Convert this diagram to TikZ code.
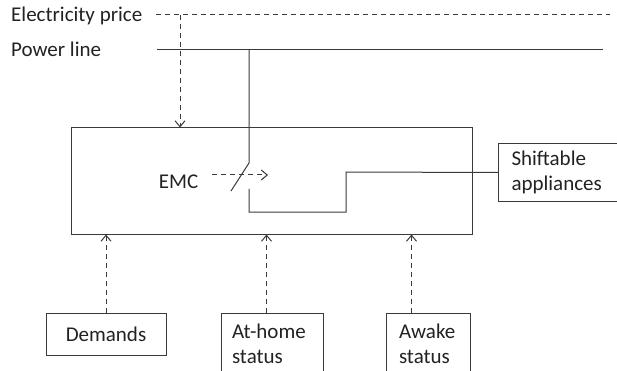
\documentclass[tikz,border=0pt]{standalone}
\usepackage{fontspec}
\setmainfont{Carlito}
\usetikzlibrary{arrows.meta}
\definecolor{linec}{HTML}{3A3A3A}
\definecolor{textc}{HTML}{222222}
\tikzset{
  txt/.style={text=textc, inner sep=0pt, font=\fontsize{21}{24.5}\selectfont},
  boxn/.style={draw=linec, line width=1pt, txt},
  wire/.style={draw=linec, line width=1pt},
  sig/.style={draw=linec, line width=1pt, dash pattern=on 5pt off 4pt,
              -{Straight Barb[length=6pt,width=10pt]}},
}
\begin{document}
\begin{tikzpicture}[x=1pt,y=-1pt]
\useasboundingbox (0,0) rectangle (617,371);
% labels
\node[txt, anchor=base west] (ep) at (11,22) {Electricity price};
\node[txt, anchor=base west] (pl) at (11,57) {Power line};
% lines
\coordinate (epS) at (156,15);
\coordinate (epE) at (610,15);
\coordinate (plS) at (157,50);
\coordinate (plE) at (603,50);
\draw[wire, dash pattern=on 5pt off 4pt] (epS) -- (epE);
\draw[wire] (plS) -- (plE);
% main box
\node[boxn, minimum width=401pt, minimum height=106pt] (emcbox) at (271.5,181) {};
\node[txt, anchor=base] (emc) at (178.5,189) {EMC};
% price arrow
\coordinate (ptap) at (180,15);
\draw[sig] (ptap) -- (ptap |- emcbox.north);
% switch
\coordinate (ptap2) at (249,50);
\coordinate (sw1) at (249,163);
\coordinate (blade) at (231,191);
\coordinate (sw2) at (249,189);
\draw[wire] (ptap2) -- (sw1) -- (blade);
\coordinate (ctlA) at (212,175);
\coordinate (ctlB) at (268,175);
\draw[sig] (ctlA) -- (ctlB);
% shiftable appliances
\node[boxn, anchor=north west, minimum height=58pt,
      inner xsep=13pt, text width=120pt, align=left] (shift) at (498,143)
      {Shiftable\\appliances};
\draw[wire] (sw2) -- (249,212) -- (346,212) -- (346,172) -- (shift.west);
% bottom boxes
\node[boxn, minimum width=120pt, minimum height=42pt] (dem) at (106,334) {Demands};
\node[boxn, minimum height=62pt, inner xsep=11pt, text width=80pt, align=left] (ah) at (272,344) {At-home\\status};
\node[boxn, minimum height=62pt, inner xsep=13pt, text width=58pt, align=left] (aw) at (428,344) {Awake\\status};
\draw[sig] (dem.north) -- (dem.north |- emcbox.south);
\draw[sig] ([xshift=46pt]ah.north west) -- ([xshift=46pt]ah.north west |- emcbox.south);
\draw[sig] ([xshift=26pt]aw.north west) -- ([xshift=26pt]aw.north west |- emcbox.south);
\end{tikzpicture}
\end{document}
